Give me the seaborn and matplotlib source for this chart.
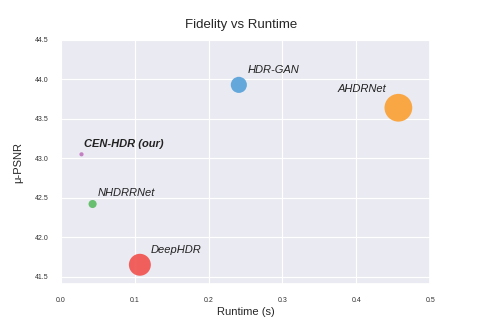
import matplotlib
matplotlib.use("Agg")
import matplotlib.pyplot as plt
import seaborn as sns
import pandas as pd

methods = ["CEN-HDR (our)", "HDR-GAN", "NHDRRNet", "DeepHDR", "AHDRNet"]
runtime = [0.028, 0.241, 0.043, 0.107, 0.457]
psnr = [43.05, 43.93, 42.42, 41.65, 43.64]
sizes = [9, 135, 34, 250, 400]
colors = ["#c27bbf", "#5da5da", "#60bd68", "#f15854", "#faa43a"]
label_offsets = [(2, 4), (6, 7), (4, 4), (8, 7), (-9, 10)]
label_ha = ["left", "left", "left", "left", "right"]
label_weight = ["bold", "normal", "normal", "normal", "normal"]

df = pd.DataFrame({"method": methods, "runtime": runtime, "psnr": psnr, "size": sizes})

sns.set_theme(style="darkgrid", rc={"grid.linewidth": 0.8})
plt.rcParams["font.family"] = ["Liberation Sans", "DejaVu Sans"]

fig, ax = plt.subplots(figsize=(4.79, 3.27), dpi=100)
fig.subplots_adjust(left=0.127, right=0.898, top=0.878, bottom=0.13)

sns.scatterplot(data=df, x="runtime", y="psnr", hue="method", size="method",
                sizes=dict(zip(methods, sizes)), palette=dict(zip(methods, colors)),
                legend=False, linewidth=0, alpha=0.95, ax=ax)

for m, x, y, off, ha, w in zip(methods, runtime, psnr, label_offsets, label_ha, label_weight):
    ax.annotate(m, (x, y), xytext=off, textcoords="offset points", ha=ha, va="bottom",
                fontsize=8, style="italic", fontweight=w, color="#222222")

ax.set_xlim(0, 0.5)
ax.set_ylim(41.4, 44.5)
ax.set_xticks([0.0, 0.1, 0.2, 0.3, 0.4, 0.5])
ax.set_yticks([41.5, 42.0, 42.5, 43.0, 43.5, 44.0, 44.5])
ax.tick_params(labelsize=5, pad=3, colors="#333333")
ax.set_xlabel("Runtime (s)", fontsize=8, labelpad=2)
ax.set_ylabel("μ-PSNR", fontsize=8, labelpad=8)
fig.suptitle("Fidelity vs Runtime", fontsize=9.5, x=0.503, y=0.942)

fig.savefig("out.png", dpi=100)
